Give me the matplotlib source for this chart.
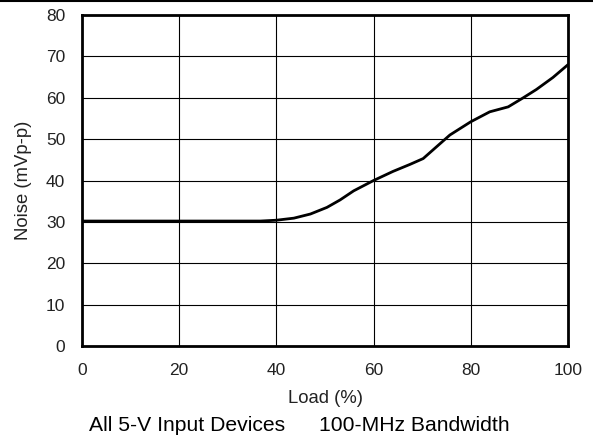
import matplotlib
matplotlib.use("Agg")
import matplotlib.pyplot as plt
from matplotlib.lines import Line2D

load = [0, 20, 36.7, 40, 43.6, 47, 50.4, 53.1, 55.9, 60, 64, 67.5, 70.2, 72.9, 75.7, 80, 83.9, 87.7, 90.8, 93.5, 96.9, 100]
noise = [30.2, 30.2, 30.2, 30.4, 30.9, 31.9, 33.5, 35.3, 37.5, 40.0, 42.2, 43.9, 45.3, 48.1, 51.0, 54.2, 56.6, 57.8, 60.0, 62.0, 64.9, 68.0]

xticks = [0, 20, 40, 60, 80, 100]
yticks = [0, 10, 20, 30, 40, 50, 60, 70, 80]

plt.rcParams['font.family'] = ['Liberation Sans', 'DejaVu Sans']

W, H = 593, 436
fig = plt.figure(figsize=(W / 100, H / 100), dpi=100)
ax = fig.add_axes([82 / W, 1 - 346 / H, (568 - 82) / W, (346 - 15) / H])

ax.plot(load, noise, color='black', lw=2.0, solid_capstyle='round', solid_joinstyle='round')
ax.set_xlim(0, 100)
ax.set_ylim(0, 80)
ax.set_xticks(xticks)
ax.set_yticks(yticks)
ax.tick_params(length=0, labelsize=12.5, pad=12, labelcolor='#222222')
ax.grid(True, color='black', lw=0.8)
for s in ax.spines.values():
    s.set_linewidth(2.0)

fig.text(325 / W, 1 - 403 / H, 'Load (%)', ha='center', va='baseline', fontsize=13.3, color='#222222')
fig.text(23.5 / W, 1 - 180.5 / H, 'Noise (mVp-p)', ha='center', va='center', rotation=90, fontsize=13.3, color='#222222')

fig.text(89 / W, 1 - 431 / H, 'All 5-V Input Devices', ha='left', va='baseline', fontsize=15.2)
fig.text(319 / W, 1 - 431 / H, '100-MHz Bandwidth', ha='left', va='baseline', fontsize=15.2)
fig.add_artist(Line2D([0, 1], [0.997, 0.997], color='black', lw=1.5, transform=fig.transFigure))

fig.savefig('out.png', dpi=100)
